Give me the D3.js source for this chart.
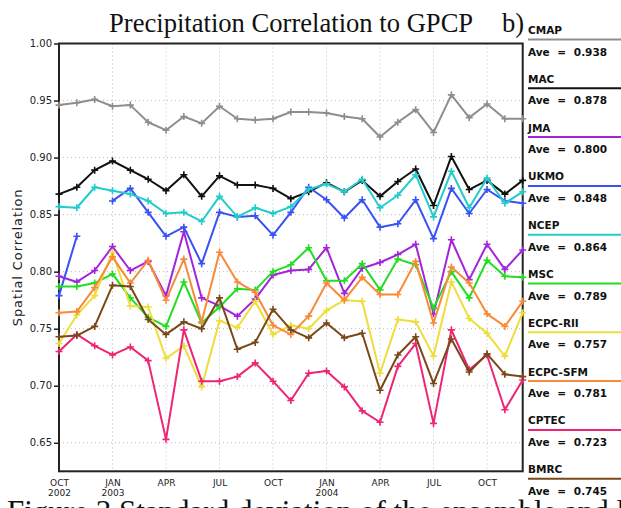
<!DOCTYPE html>
<html>
<head>
<meta charset="utf-8">
<script src="https://cdn.jsdelivr.net/npm/d3@7"></script>
<style>
body{margin:0;background:#fff;}
svg{display:block;background:#fff;}
</style>
</head>
<body>
<svg></svg>
<script>
// months on the x axis (Oct 2002 .. Dec 2004)
var months = ["2002-10","2002-11","2002-12","2003-01","2003-02","2003-03","2003-04","2003-05","2003-06",
              "2003-07","2003-08","2003-09","2003-10","2003-11","2003-12","2004-01","2004-02","2004-03",
              "2004-04","2004-05","2004-06","2004-07","2004-08","2004-09","2004-10","2004-11","2004-12"];

var tickMonths = ["2002-10","2003-01","2003-04","2003-07","2003-10","2004-01","2004-04","2004-07","2004-10"];
var tickNames  = ["OCT","JAN","APR","JUL","OCT","JAN","APR","JUL","OCT"];
var tickYears  = ["2002","2003","","","","2004","","",""];
var yTicks = [0.65,0.70,0.75,0.80,0.85,0.90,0.95,1.00];

var cmap  = [0.946,0.948,0.951,0.945,0.946,0.931,0.924,0.936,0.930,0.945,0.934,0.933,0.934,0.940,0.940,0.939,0.936,0.934,0.918,0.931,0.942,0.922,0.955,0.935,0.947,0.934,0.934];
var mac   = [0.868,0.874,0.889,0.897,0.889,0.881,0.871,0.885,0.866,0.884,0.876,0.876,0.873,0.864,0.870,0.878,0.870,0.880,0.866,0.879,0.890,0.858,0.901,0.872,0.880,0.868,0.880];
var jma   = [0.796,0.791,0.801,0.822,0.801,0.809,0.779,0.835,0.777,0.770,0.761,0.776,0.797,0.801,0.802,0.821,0.781,0.803,0.808,0.815,0.824,0.763,0.828,0.793,0.824,0.802,0.819];
var ukmo  = [0.779,0.831,null,0.862,0.873,0.852,0.831,0.839,0.807,0.852,0.848,0.849,0.832,0.852,0.874,0.863,0.847,0.863,0.839,0.842,0.863,0.829,0.873,0.851,0.872,0.862,0.860];
var ncep  = [0.857,0.856,0.874,0.871,0.868,0.862,0.851,0.852,0.844,0.866,0.848,0.856,0.851,0.857,0.872,0.877,0.870,0.881,0.856,0.867,0.885,0.848,0.888,0.856,0.882,0.860,0.870];
var msc   = [0.787,0.787,0.790,0.798,0.777,0.760,0.752,0.791,0.755,0.769,0.785,0.784,0.800,0.806,0.821,0.792,0.792,0.807,0.784,0.811,0.806,0.768,0.800,0.777,0.810,0.796,0.795];
var ecpcRii = [0.737,0.762,0.779,0.817,0.770,0.769,0.724,0.735,0.699,0.757,0.751,0.774,0.745,0.753,0.750,0.766,0.775,0.774,0.711,0.758,0.756,0.726,0.791,0.759,0.746,0.726,0.764];
var ecpcSfm = [0.764,0.765,0.786,0.813,0.790,0.810,0.775,0.811,0.756,0.817,0.791,0.782,0.753,0.745,0.761,0.790,0.775,0.795,0.780,0.780,0.809,0.755,0.804,0.790,0.763,0.752,0.774];
var cptec = [0.730,0.745,0.735,0.727,0.734,0.722,0.653,0.749,0.704,0.704,0.708,0.720,0.704,0.687,0.711,0.713,0.699,0.678,0.668,0.717,0.737,0.667,0.749,0.714,0.727,0.679,0.705];
var bmrc  = [0.743,0.744,0.752,0.788,0.787,0.758,0.745,0.756,0.750,0.777,0.732,0.738,0.767,0.749,0.742,0.755,0.742,0.746,0.696,0.727,0.743,0.702,0.741,0.712,0.728,0.710,0.708];

var names = ["CMAP","MAC","JMA","UKMO","NCEP","MSC","ECPC-RII","ECPC-SFM","CPTEC","BMRC"];
var aves  = ["0.938","0.878","0.800","0.848","0.864","0.789","0.757","0.781","0.723","0.745"];
var series = [cmap,mac,jma,ukmo,ncep,msc,ecpcRii,ecpcSfm,cptec,bmrc];
var colors = ["#8e8e8e","#111111","#a424dc","#3a52f4","#22cccc","#22dd22","#eedd3a","#f88a3a","#ee2474","#7a4818"];

var drawGrid = function(target,xScale,yScale,graph)
{
    target.append("g").selectAll("line")
        .data(yTicks.slice(0,-1))
        .enter().append("line")
        .attr("x1",0).attr("x2",graph.width)
        .attr("y1",function(d){return yScale(d)})
        .attr("y2",function(d){return yScale(d)})
        .attr("stroke","#bbb").attr("stroke-dasharray","1,3")

    target.append("g").selectAll("line")
        .data(tickMonths.slice(1))
        .enter().append("line")
        .attr("y1",0).attr("y2",graph.height)
        .attr("x1",function(d){return xScale(d)})
        .attr("x2",function(d){return xScale(d)})
        .attr("stroke","#bbb").attr("stroke-dasharray","1,3")

    target.append("rect")
        .attr("width",graph.width).attr("height",graph.height)
        .attr("fill","none").attr("stroke","#222").attr("stroke-width",2)
}

var drawLines = function(target,xScale,yScale)
{
    var lineGenerator = d3.line()
        .defined(function(d){return d!=null})
        .x(function(d,i){return xScale(months[i])})
        .y(function(d){return yScale(d)})

    var lines = target.selectAll(".series")
        .data(series)
        .enter()
        .append("g")
        .classed("series",true)
        .attr("stroke",function(d,i){return colors[i]})
        .attr("fill","none")

    lines.append("path")
        .attr("stroke-width",2)
        .attr("stroke-linejoin","round")
        .attr("d",lineGenerator);

    // the little + markers
    lines.selectAll(".pt")
        .data(function(d){
            return d.map(function(v,i){return {v:v,m:months[i]}})
                    .filter(function(p){return p.v!=null})})
        .enter()
        .append("path")
        .classed("pt",true)
        .attr("stroke-width",1.6)
        .attr("d",function(p){
            var x=xScale(p.m), y=yScale(p.v);
            return "M"+(x-3.5)+","+y+"H"+(x+3.5)+"M"+x+","+(y-3.5)+"V"+(y+3.5)});
}

var drawAxes = function(graph,margins,xScale,yScale)
{
    var yAxis = d3.axisLeft(yScale)
        .tickValues(yTicks)
        .tickFormat(d3.format(".2f"))
        .tickSize(5)
        .tickPadding(2)

    var xAxis = d3.axisBottom(xScale)
        .tickValues(tickMonths)
        .tickSize(0)

    var axes = d3.select("svg").append("g")

    var ya = axes.append("g")
        .attr("transform","translate("+margins.left+","+margins.top+")")
        .call(yAxis)
    ya.select(".domain").remove()
    ya.selectAll("text").attr("font-family","'DejaVu Sans',sans-serif")
        .attr("font-size",10).attr("fill","#222")
    ya.selectAll("line").attr("stroke","#222").attr("stroke-width",1.5)

    var xa = axes.append("g")
        .attr("transform","translate("+margins.left+","+(margins.top+graph.height)+")")
        .call(xAxis)
    xa.select(".domain").remove()
    xa.selectAll(".tick text").each(function(d,i){
        var t = d3.select(this)
        t.text(null).attr("y",0).attr("dy",null)
            .attr("font-family","'DejaVu Sans',sans-serif")
            .attr("font-size",9).attr("fill","#222")
        t.append("tspan").attr("x",0).attr("y",14.5).text(tickNames[i])
        if(tickYears[i]!="")
            t.append("tspan").attr("x",0).attr("y",25).text(tickYears[i])
    })
}

var drawLabels = function(graph,margins)
{
    var labels = d3.select("svg").append("g").classed("labels",true)

    labels.append("text")
        .text("Precipitation Correlation to GPCP")
        .attr("x",109).attr("y",32)
        .attr("font-family","'Liberation Serif','Times New Roman',serif")
        .attr("font-size",26.6).attr("fill","#111")

    labels.append("text")
        .text("b)")
        .attr("x",502).attr("y",32)
        .attr("font-family","'Liberation Serif','Times New Roman',serif")
        .attr("font-size",26.6).attr("fill","#111")

    labels.append("g")
        .attr("transform","translate(22,"+(margins.top+graph.height/2)+")")
        .append("text")
        .text("Spatial Correlation")
        .attr("text-anchor","middle")
        .attr("transform","rotate(-90)")
        .attr("font-family","'DejaVu Sans',sans-serif")
        .attr("font-size",13).attr("letter-spacing",0.9).attr("fill","#222")

    labels.append("text")
        .text("Figure 3 Standard deviation of the ensemble and lead")
        .attr("x",7).attr("y",522)
        .attr("font-family","'Liberation Serif','Times New Roman',serif")
        .attr("font-size",31).attr("fill","#111")
}

var drawLegend = function()
{
    var legend = d3.select("svg").append("g").classed("legend",true)
    var entries = legend.selectAll("g")
        .data(names)
        .enter().append("g")
        .attr("transform",function(d,i){return "translate(528,"+(34+i*48.8)+")"})
        .attr("font-family","'DejaVu Sans',sans-serif")
        .attr("font-weight","bold")
        .attr("font-size",10.5)
        .attr("fill","#111")

    entries.append("text").text(function(d){return d})
    entries.append("line")
        .attr("x1",0).attr("x2",93).attr("y1",5.5).attr("y2",5.5)
        .attr("stroke",function(d,i){return colors[i]})
        .attr("stroke-width",2)
    entries.append("text")
        .attr("y",21.5)
        .attr("word-spacing",4)
        .text(function(d,i){return "Ave = "+aves[i]})
}

var initGraph = function()
{
    var screen = {width:621,height:508}
    var margins = {left:59,right:98.3,top:43.5,bottom:36.7}
    var graph =
        {
            width:screen.width-margins.left-margins.right,
            height:screen.height-margins.top-margins.bottom
        }

    d3.select("svg")
        .attr("width",screen.width)
        .attr("height",screen.height)

    var target = d3.select("svg")
        .append("g")
        .attr("id","graph")
        .attr("transform","translate("+margins.left+","+margins.top+")");

    var xScale = d3.scalePoint()
        .domain(months)
        .range([0,graph.width])

    var yScale = d3.scaleLinear()
        .domain([0.625,1.0])
        .range([graph.height,0])

    drawGrid(target,xScale,yScale,graph);
    drawAxes(graph,margins,xScale,yScale);
    drawLines(target,xScale,yScale);
    drawLabels(graph,margins);
    drawLegend();
}

initGraph();
</script>
</body>
</html>
